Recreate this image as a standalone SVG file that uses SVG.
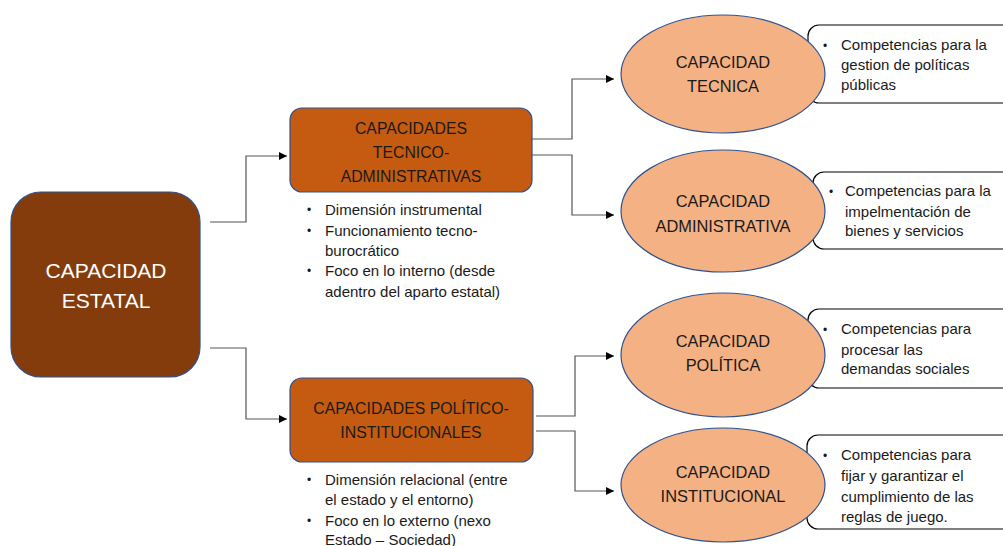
<svg xmlns="http://www.w3.org/2000/svg" width="1003" height="546" viewBox="0 0 1003 546">
<defs>
<marker id="arr" viewBox="0 0 10 10" refX="10" refY="5" markerWidth="8" markerHeight="8" markerUnits="userSpaceOnUse" orient="auto">
<path d="M0,0 L10,5 L0,10 z" fill="#000"/>
</marker>
<style>
text{font-family:"Liberation Sans","Noto Sans",sans-serif;}
.main{fill:#843C0C;stroke:#2F528F;stroke-width:1.2;}
.mid{fill:#C55A11;stroke:#2F528F;stroke-width:1.2;}
.ell{fill:#F4B183;stroke:#2F528F;stroke-width:1.2;}
.note{fill:#fff;stroke:#000;stroke-width:1.2;}
.t16{font-size:15.8px;fill:#1a1a1a;text-anchor:middle;}
.te{font-size:16.4px;fill:#1a1a1a;text-anchor:middle;}
.b{font-size:15px;fill:#1a1a1a;}
.d{font-size:12px;fill:#1a1a1a;}
.wt{font-size:21px;fill:#fff;text-anchor:middle;}
.con{fill:none;stroke:#555;stroke-width:1.2;}
</style>
</defs>
<g id="connectors">
<path class="con" d="M210,222 H246 V156 H287" marker-end="url(#arr)"/>
<path class="con" d="M210,348 H246 V419 H287" marker-end="url(#arr)"/>
<path class="con" d="M532,139 H572 V79 H614" marker-end="url(#arr)"/>
<path class="con" d="M532,155 H572 V215 H614" marker-end="url(#arr)"/>
<path class="con" d="M536,416 H575 V356 H614" marker-end="url(#arr)"/>
<path class="con" d="M536,431 H575 V491 H614" marker-end="url(#arr)"/>
</g>
<g id="estatal">
<rect class="main" x="11" y="192" width="189" height="185" rx="30"/>
<text class="wt" x="106" y="278">CAPACIDAD</text>
<text class="wt" x="106" y="308">ESTATAL</text>
</g>
<g id="tecnico-admin">
<rect class="mid" x="290" y="108" width="242" height="84" rx="12"/>
<text class="t16" x="411" y="134">CAPACIDADES</text>
<text class="t16" x="411" y="158">TECNICO-</text>
<text class="t16" x="411" y="182">ADMINISTRATIVAS</text>
<text class="d" x="307" y="214">•</text><text class="b" x="325" y="215">Dimensión instrumental</text>
<text class="d" x="307" y="235">•</text><text class="b" x="325" y="236">Funcionamiento tecno-</text>
<text class="b" x="325" y="256">burocrático</text>
<text class="d" x="307" y="275">•</text><text class="b" x="325" y="276">Foco en lo interno (desde</text>
<text class="b" x="325" y="297">adentro del aparto estatal)</text>
</g>
<g id="politico-inst">
<rect class="mid" x="290" y="378" width="243" height="84" rx="12"/>
<text class="t16" x="411" y="414">CAPACIDADES POLÍTICO-</text>
<text class="t16" x="411" y="438">INSTITUCIONALES</text>
<text class="d" x="307" y="484">•</text><text class="b" x="325" y="485">Dimensión relacional (entre</text>
<text class="b" x="325" y="505">el estado y el entorno)</text>
<text class="d" x="307" y="525">•</text><text class="b" x="325" y="526">Foco en lo externo (nexo</text>
<text class="b" x="325" y="545">Estado – Sociedad)</text>
</g>
<g id="tecnica">
<rect class="note" x="808" y="25" width="210" height="78" rx="11"/>
<ellipse class="ell" cx="723" cy="74" rx="102" ry="59"/>
<text class="te" x="723" y="68">CAPACIDAD</text>
<text class="te" x="723" y="92">TECNICA</text>
<text class="d" x="823" y="50">•</text><text class="b" x="841" y="50">Competencias para la</text>
<text class="b" x="841" y="70">gestion de políticas</text>
<text class="b" x="841" y="90">públicas</text>
</g>
<g id="administrativa">
<rect class="note" x="813" y="172" width="210" height="77" rx="11"/>
<ellipse class="ell" cx="723" cy="211" rx="102" ry="61"/>
<text class="te" x="723" y="207">CAPACIDAD</text>
<text class="te" x="723" y="232">ADMINISTRATIVA</text>
<text class="d" x="829" y="196">•</text><text class="b" x="845" y="196">Competencias para la</text>
<text class="b" x="845" y="217">impelmentación de</text>
<text class="b" x="845" y="236">bienes y servicios</text>
</g>
<g id="politica">
<rect class="note" x="808" y="309" width="210" height="79" rx="11"/>
<ellipse class="ell" cx="723" cy="355" rx="102" ry="62"/>
<text class="te" x="723" y="347">CAPACIDAD</text>
<text class="te" x="723" y="371">POLÍTICA</text>
<text class="d" x="823" y="334">•</text><text class="b" x="841" y="334">Competencias para</text>
<text class="b" x="841" y="355">procesar las</text>
<text class="b" x="841" y="374">demandas sociales</text>
</g>
<g id="institucional">
<rect class="note" x="807" y="435" width="210" height="94" rx="11"/>
<ellipse class="ell" cx="723" cy="485" rx="102" ry="57"/>
<text class="te" x="723" y="478">CAPACIDAD</text>
<text class="te" x="723" y="502">INSTITUCIONAL</text>
<text class="d" x="823" y="460">•</text><text class="b" x="841" y="460">Competencias para</text>
<text class="b" x="841" y="481">fijar y garantizar el</text>
<text class="b" x="841" y="502">cumplimiento de las</text>
<text class="b" x="841" y="522">reglas de juego.</text>
</g>
</svg>
